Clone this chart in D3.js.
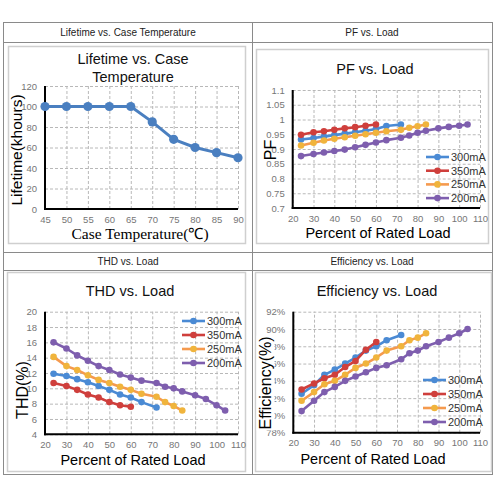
<!DOCTYPE html>
<html>
<head>
<meta charset="utf-8">
<script src="https://cdn.jsdelivr.net/npm/d3@7"></script>
<style>
  body { margin: 0; background: #fff; }
  svg { display: block; font-family: "Liberation Sans", Arial, sans-serif; }
  .tick text { fill: #767676; font-size: 9.5px; }
  .grid line { stroke: #b8b8b8; stroke-dasharray: 3,2; }
  .grid path { display: none; }
</style>
</head>
<body>
<svg id="chart" width="500" height="500"></svg>
<script>
  // Lifetime vs. case temperature
  var lifeTemp = [45, 50, 55, 60, 65, 70, 75, 80, 85, 90];
  var lifeHours = [100, 100, 100, 100, 100, 85, 68, 60, 55, 50];

  // Load points (% of rated load) per drive current
  var load300 = [24, 30, 35, 40, 45, 50, 55, 60, 65, 72];
  var load350 = [24, 30, 35, 40, 45, 50, 55, 60];
  var load250 = [24, 30, 35, 40, 45, 50, 55, 60, 65, 72, 76, 80, 84];
  var load200 = [24, 30, 35, 40, 45, 50, 55, 60, 65, 72, 76, 80, 84, 90, 95, 100, 104];

  var pf300 = [0.932, 0.937, 0.942, 0.947, 0.952, 0.957, 0.962, 0.968, 0.978, 0.983];
  var pf350 = [0.948, 0.957, 0.960, 0.965, 0.970, 0.974, 0.979, 0.983];
  var pf250 = [0.912, 0.921, 0.929, 0.935, 0.940, 0.945, 0.950, 0.955, 0.960, 0.965, 0.972, 0.977, 0.983];
  var pf200 = [0.876, 0.883, 0.888, 0.893, 0.898, 0.906, 0.914, 0.922, 0.930, 0.938, 0.946, 0.955, 0.962, 0.970, 0.975, 0.979, 0.983];

  var thd300 = [11.9, 11.6, 11.2, 10.8, 10.3, 9.8, 9.2, 8.8, 8.2, 7.5];
  var thd350 = [10.7, 10.3, 9.8, 9.2, 8.8, 8.2, 7.8, 7.6];
  var thd250 = [14.1, 12.9, 12.4, 11.7, 11.1, 10.7, 10.2, 9.8, 9.3, 8.9, 8.2, 7.7, 7.1];
  var thd200 = [16.0, 15.2, 14.3, 13.6, 12.9, 12.4, 11.8, 11.4, 11.0, 10.7, 10.2, 10.0, 9.6, 9.1, 8.6, 7.8, 7.1];

  var eff300 = [82.5, 83.5, 84.7, 85.3, 86.0, 86.7, 87.5, 88.0, 88.7, 89.3];
  var eff350 = [83.0, 83.7, 84.3, 84.7, 85.6, 86.3, 87.6, 88.5];
  var eff250 = [81.7, 82.7, 83.6, 84.0, 84.7, 85.5, 86.0, 86.7, 87.5, 88.0, 88.7, 89.0, 89.5];
  var eff200 = [80.5, 81.7, 82.7, 83.3, 84.0, 84.5, 85.0, 85.5, 85.8, 86.5, 87.2, 87.5, 88.0, 88.5, 89.0, 89.5, 90.0];

  var seriesNames = ['300mA', '350mA', '250mA', '200mA'];
  var lineColors = ['#4a8ad4', '#cf3f3c', '#f59a4e', '#7e5eae'];
  var markerColors = ['#4a8ad4', '#cf3f3c', '#f0b43c', '#7e5eae'];

  var tempTicks = [45, 50, 55, 60, 65, 70, 75, 80, 85, 90];
  var lifeTicks = [0, 20, 40, 60, 80, 100, 120];
  var loadTicks = [20, 30, 40, 50, 60, 70, 80, 90, 100, 110];
  var pfTicks = [0.7, 0.75, 0.8, 0.85, 0.9, 0.95, 1, 1.05, 1.1];
  var thdTicks = [4, 6, 8, 10, 12, 14, 16, 18, 20];
  var effTicks = [78, 80, 82, 84, 86, 88, 90, 92];

  var headers = ['Lifetime vs. Case Temperature', 'PF vs. Load', 'THD vs. Load', 'Efficiency vs. Load'];

  function zip(xs, ys) {
    return xs.map(function(x, i) { return {x: x, y: ys[i]}; });
  }

  var svg = d3.select('#chart');

  // Outer table
  var table = svg.append('g').attr('fill', 'none').attr('stroke', '#8a8a8a').attr('stroke-width', 1);
  table.append('rect').attr('x', 3.5).attr('y', 22.5).attr('width', 489).attr('height', 452);
  [42.5, 252.5, 270.5].forEach(function(y) {
    table.append('line').attr('x1', 3.5).attr('x2', 492.5).attr('y1', y).attr('y2', y);
  });
  table.append('line').attr('x1', 252.5).attr('x2', 252.5).attr('y1', 22.5).attr('y2', 474.5);

  var headerPos = [[128, 36], [372, 36], [128, 265], [372, 265]];
  headers.forEach(function(h, i) {
    svg.append('text')
      .attr('x', headerPos[i][0]).attr('y', headerPos[i][1])
      .attr('text-anchor', 'middle')
      .attr('font-size', 10)
      .attr('fill', '#222')
      .text(h);
  });

  function panel(cfg) {
    var g = svg.append('g');

    g.append('rect')
      .attr('x', cfg.frame[0]).attr('y', cfg.frame[1])
      .attr('width', cfg.frame[2] - cfg.frame[0]).attr('height', cfg.frame[3] - cfg.frame[1])
      .attr('fill', '#fff').attr('stroke', '#cfcfcf').attr('stroke-width', 1.5);

    var x = d3.scaleLinear().domain(cfg.xDomain).range([cfg.plot[0], cfg.plot[2]]);
    var y = d3.scaleLinear().domain(cfg.yDomain).range([cfg.plot[3], cfg.plot[1]]);
    var w = cfg.plot[2] - cfg.plot[0];
    var h = cfg.plot[3] - cfg.plot[1];

    // Gridlines
    g.append('g').attr('class', 'grid')
      .attr('transform', 'translate(0,' + cfg.plot[3] + ')')
      .call(d3.axisBottom(x).tickValues(cfg.xTicks).tickSize(-h).tickFormat(''));
    g.append('g').attr('class', 'grid')
      .attr('transform', 'translate(' + cfg.plot[0] + ',0)')
      .call(d3.axisLeft(y).tickValues(cfg.yTicks).tickSize(-w).tickFormat(''));

    // Tick labels
    var xa = g.append('g')
      .attr('transform', 'translate(0,' + (cfg.plot[3] + 4) + ')')
      .call(d3.axisBottom(x).tickValues(cfg.xTicks).tickSize(0).tickFormat(cfg.xFormat || d3.format('d')));
    xa.select('.domain').remove();
    xa.selectAll('text').attr('font-family', null).attr('font-size', null);

    var ya = g.append('g')
      .attr('transform', 'translate(' + (cfg.plot[0] - 5) + ',0)')
      .call(d3.axisLeft(y).tickValues(cfg.yTicks).tickSize(0).tickFormat(cfg.yFormat));
    ya.select('.domain').remove();
    ya.selectAll('text').attr('font-family', null).attr('font-size', null);

    // Axis lines
    g.append('line')
      .attr('x1', cfg.plot[0]).attr('x2', cfg.plot[0])
      .attr('y1', cfg.plot[1]).attr('y2', cfg.plot[3] + 1)
      .attr('stroke', '#000').attr('stroke-width', 2);
    g.append('line')
      .attr('x1', cfg.plot[0] - 1).attr('x2', cfg.plot[2])
      .attr('y1', cfg.plot[3]).attr('y2', cfg.plot[3])
      .attr('stroke', '#000').attr('stroke-width', 2);

    // Series
    var line = d3.line().x(function(d) { return x(d.x); }).y(function(d) { return y(d.y); });
    cfg.series.forEach(function(s) {
      g.append('path')
        .datum(s.data)
        .attr('fill', 'none')
        .attr('stroke', s.line)
        .attr('stroke-width', cfg.lineWidth)
        .attr('stroke-linejoin', 'round')
        .attr('d', line);
      g.selectAll(null)
        .data(s.data)
        .enter().append('circle')
        .attr('cx', function(d) { return x(d.x); })
        .attr('cy', function(d) { return y(d.y); })
        .attr('r', cfg.markerR)
        .attr('fill', s.marker);
    });

    // Title
    cfg.title.forEach(function(t, i) {
      g.append('text')
        .attr('x', cfg.titlePos[0]).attr('y', cfg.titlePos[1] + i * 18)
        .attr('text-anchor', 'middle')
        .attr('font-size', 14.5)
        .attr('fill', '#111')
        .text(t);
    });

    // Axis titles
    g.append('text')
      .attr('x', cfg.xLabelPos[0]).attr('y', cfg.xLabelPos[1])
      .attr('text-anchor', 'middle')
      .attr('font-size', cfg.xLabelSize || 14.5)
      .attr('font-family', cfg.xLabelFont || null)
      .attr('fill', '#000')
      .text(cfg.xLabel);

    var yl = g.append('g')
      .attr('transform', 'translate(' + cfg.yLabelPos[0] + ',' + cfg.yLabelPos[1] + ') rotate(-90)');
    var ylText = yl.append('text')
      .attr('text-anchor', 'middle')
      .attr('dy', '0.35em')
      .attr('font-size', cfg.yLabelSize || 15)
      .attr('fill', '#000')
      .text(cfg.yLabel);
    if (cfg.yLabelBg) {
      var bb = ylText.node().getBBox();
      yl.insert('rect', 'text')
        .attr('x', bb.x - 1).attr('y', bb.y).attr('width', bb.width + 2).attr('height', bb.height + 1)
        .attr('fill', '#fff');
    }

    // Legend
    if (cfg.legend) {
      cfg.series.forEach(function(s, i) {
        var ly = cfg.legend[1] + i * cfg.legend[2];
        var lx = cfg.legend[0];
        g.append('line')
          .attr('x1', lx).attr('x2', lx + 23)
          .attr('y1', ly).attr('y2', ly)
          .attr('stroke', s.line).attr('stroke-width', 2.6);
        g.append('circle')
          .attr('cx', lx + 11.5).attr('cy', ly).attr('r', 3.3)
          .attr('fill', s.marker);
        g.append('text')
          .attr('x', lx + 25).attr('y', ly).attr('dy', '0.35em')
          .attr('font-size', 11)
          .attr('fill', '#333')
          .text(s.name);
      });
    }
  }

  function loadSeries(ys) {
    var xs = [load300, load350, load250, load200];
    return seriesNames.map(function(n, i) {
      return {name: n, line: lineColors[i], marker: markerColors[i], data: zip(xs[i], ys[i])};
    });
  }

  panel({
    frame: [8.5, 46.5, 245.5, 243.5],
    plot: [45, 86, 238, 209],
    xDomain: [45, 90], yDomain: [0, 120],
    xTicks: tempTicks, yTicks: lifeTicks,
    yFormat: d3.format('d'),
    series: [{name: 'Lifetime', line: '#4a7fc0', marker: '#4a7fc0', data: zip(lifeTemp, lifeHours)}],
    lineWidth: 3, markerR: 4.6,
    title: ['Lifetime vs. Case', 'Temperature'], titlePos: [133, 64],
    xLabel: 'Case Temperature(\u2103)', xLabelPos: [140, 239], xLabelSize: 15.5,
    xLabelFont: '"Liberation Serif", "Times New Roman", serif',
    yLabel: 'Lifetime(khours)', yLabelPos: [17, 150], yLabelSize: 15.5
  });

  panel({
    frame: [256.5, 49.5, 488.5, 243.5],
    plot: [292.7, 90, 480, 208],
    xDomain: [20, 110], yDomain: [0.7, 1.1],
    xTicks: loadTicks, yTicks: pfTicks,
    yFormat: function(d) { return String(+d.toFixed(2)); },
    series: loadSeries([pf300, pf350, pf250, pf200]),
    lineWidth: 2.6, markerR: 3.3,
    title: ['PF vs. Load'], titlePos: [375, 74],
    xLabel: 'Percent of Rated Load', xLabelPos: [378, 238],
    yLabel: 'PF', yLabelPos: [270, 150], yLabelSize: 16,
    legend: [426, 157, 13.7]
  });

  panel({
    frame: [7.5, 272.5, 245.5, 471.5],
    plot: [45, 311.7, 238, 434.3],
    xDomain: [20, 110], yDomain: [4, 20],
    xTicks: loadTicks, yTicks: thdTicks,
    yFormat: d3.format('d'),
    series: loadSeries([thd300, thd350, thd250, thd200]),
    lineWidth: 2.6, markerR: 3.3,
    title: ['THD vs. Load'], titlePos: [130, 296],
    xLabel: 'Percent of Rated Load', xLabelPos: [133, 465],
    yLabel: 'THD(%)', yLabelPos: [22, 390], yLabelSize: 16,
    legend: [182, 321, 14]
  });

  panel({
    frame: [255.5, 272.5, 491.5, 471.5],
    plot: [293.3, 311.7, 480, 432.7],
    xDomain: [20, 110], yDomain: [78, 92],
    xTicks: loadTicks, yTicks: effTicks,
    yFormat: function(d) { return d + '%'; },
    series: loadSeries([eff300, eff350, eff250, eff200]),
    lineWidth: 2.6, markerR: 3.3,
    title: ['Efficiency vs. Load'], titlePos: [377, 296],
    xLabel: 'Percent of Rated Load', xLabelPos: [373, 464],
    yLabel: 'Efficiency(%)', yLabelPos: [265, 383], yLabelSize: 16, yLabelBg: true,
    legend: [423, 380, 14]
  });
</script>
</body>
</html>
